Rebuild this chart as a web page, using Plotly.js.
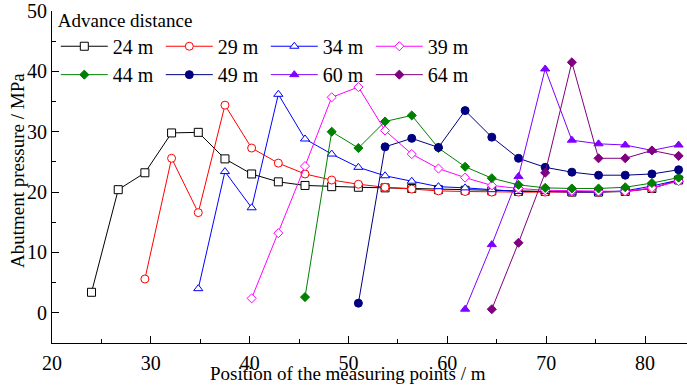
<!DOCTYPE html>
<html>
<head>
<meta charset="utf-8">
<script src="https://cdn.plot.ly/plotly-3.0.1.min.js"></script>
<style>
  html, body { margin: 0; padding: 0; background: #fff; }
  #chart { width: 687px; height: 386px; }
</style>
</head>
<body>
<div id="chart"></div>
<script>
// Positions of the measuring points (m)
const positions = [24.0, 26.7, 29.4, 32.1, 34.8, 37.5, 40.2, 42.9, 45.6, 48.3, 51.0, 53.7, 56.4, 59.1, 61.8, 64.5, 67.2, 69.9, 72.6, 75.3, 78.0, 80.7, 83.4];

// Abutment pressure (MPa) for each advance distance
const p24 = [3.4, 20.4, 23.2, 29.8, 29.9, 25.5, 23.0, 21.7, 21.1, 20.9, 20.8, 20.7, 20.6, 20.4, 20.3, 20.2, 20.1, 20.1, 20.0, 20.0, 20.1, 20.6, 22.0];
const p29 = [null, null, 5.6, 25.6, 16.6, 34.4, 27.3, 24.8, 23.0, 22.0, 21.3, 20.8, 20.5, 20.2, 20.1, 20.0, 20.0, 20.0, 20.0, 20.0, 20.1, 20.6, 22.0];
const p34 = [null, null, null, null, 4.0, 23.4, 17.4, 36.2, 28.8, 26.3, 24.1, 22.7, 21.8, 20.9, 20.7, 20.4, 20.1, 20.1, 20.0, 20.0, 20.2, 21.0, 22.0];
const p39 = [null, null, null, null, null, null, 2.4, 13.2, 24.3, 35.7, 37.4, 30.2, 26.3, 23.9, 22.4, 21.1, 20.6, 20.3, 20.2, 20.1, 20.1, 20.7, 21.8];
const p44 = [null, null, null, null, null, null, null, null, 2.6, 30.0, 27.3, 31.7, 32.7, 27.3, 24.2, 22.3, 21.2, 20.7, 20.6, 20.6, 20.8, 21.5, 22.4];
const p49 = [null, null, null, null, null, null, null, null, null, null, 1.6, 27.5, 28.9, 27.4, 33.5, 29.1, 25.6, 24.1, 23.3, 22.8, 22.8, 23.0, 23.7];
const p60 = [null, null, null, null, null, null, null, null, null, null, null, null, null, null, 0.6, 11.3, 22.6, 40.4, 28.6, 28.0, 27.8, 26.9, 27.8];
const p64 = [null, null, null, null, null, null, null, null, null, null, null, null, null, null, null, 0.6, 11.6, 23.2, 41.5, 25.6, 25.6, 26.9, 26.0];

const seriesNames = ['24 m', '29 m', '34 m', '39 m', '44 m', '49 m', '60 m', '64 m'];
const seriesValues = [p24, p29, p34, p39, p44, p49, p60, p64];
const seriesColors = ['#000000', '#FF0000', '#0000FF', '#FF00FF', '#008000', '#000080', '#8000FF', '#800080'];
const seriesSymbols = ['square', 'circle', 'triangle-up', 'diamond', 'diamond', 'circle', 'triangle-up', 'diamond'];
const seriesFilled = [false, false, false, false, true, true, true, true];
const seriesSizes = [8, 8, 8, 7, 7, 8, 8, 7];

const FONT = 'Liberation Serif, Times New Roman, serif';

const traces = seriesNames.map((name, i) => ({
  type: 'scatter',
  mode: 'lines+markers',
  name: name,
  x: positions,
  y: seriesValues[i],
  connectgaps: false,
  legend: i < 4 ? 'legend' : 'legend2',
  line: { color: seriesColors[i], width: 1 },
  marker: {
    symbol: seriesSymbols[i],
    size: seriesSizes[i],
    color: seriesFilled[i] ? seriesColors[i] : '#FFFFFF',
    line: { color: seriesColors[i], width: 1 }
  }
}));

const axisBase = {
  showline: true, linecolor: '#000', linewidth: 1,
  ticks: 'inside', ticklen: 7, tickwidth: 1, tickcolor: '#000',
  showgrid: false, zeroline: false,
  tickfont: { family: FONT, size: 20, color: '#000' },
  fixedrange: true
};

const legendBase = {
  orientation: 'h', xanchor: 'left', yanchor: 'top',
  bgcolor: 'rgba(0,0,0,0)', borderwidth: 0,
  font: { family: FONT, size: 20, color: '#000' },
  itemwidth: 47, entrywidth: 43, entrywidthmode: 'pixels',
  traceorder: 'normal', itemclick: false, itemdoubleclick: false
};

const layout = {
  width: 687, height: 386,
  margin: { l: 52, r: 0, t: 11, b: 43 },
  paper_bgcolor: '#fff', plot_bgcolor: '#fff',
  font: { family: FONT, color: '#000' },
  showlegend: true,
  xaxis: Object.assign({}, axisBase, {
    range: [20, 84.25], tick0: 20, dtick: 10, ticklabelstandoff: 2,
    minor: { ticks: 'inside', ticklen: 4, tickwidth: 1, tickcolor: '#000', dtick: 5, tick0: 20, showgrid: false }
  }),
  yaxis: Object.assign({}, axisBase, {
    range: [-5, 50], tick0: 0, dtick: 10,
    minor: { ticks: 'inside', ticklen: 4, tickwidth: 1, tickcolor: '#000', dtick: 5, tick0: 0, showgrid: false }
  }),
  legend: Object.assign({}, legendBase, {
    x: 0.006, y: 1.027,
    title: { text: 'Advance distance', side: 'top', font: { family: FONT, size: 19, color: '#000' } }
  }),
  legend2: Object.assign({}, legendBase, {
    x: 0.006, y: 0.867
  }),
  annotations: [
    {
      text: 'Position of the measuring points / m', xref: 'paper', yref: 'paper',
      x: 0.466, y: -0.093, xanchor: 'center', yanchor: 'middle', showarrow: false,
      font: { family: FONT, size: 19, color: '#000' }
    },
    {
      text: 'Abutment pressure / MPa', xref: 'paper', yref: 'paper', textangle: -90,
      x: -0.054, y: 0.52, xanchor: 'center', yanchor: 'middle', showarrow: false,
      font: { family: FONT, size: 19, color: '#000' }
    }
  ]
};

Plotly.newPlot('chart', traces, layout, { displayModeBar: false, staticPlot: true });
</script>
</body>
</html>
